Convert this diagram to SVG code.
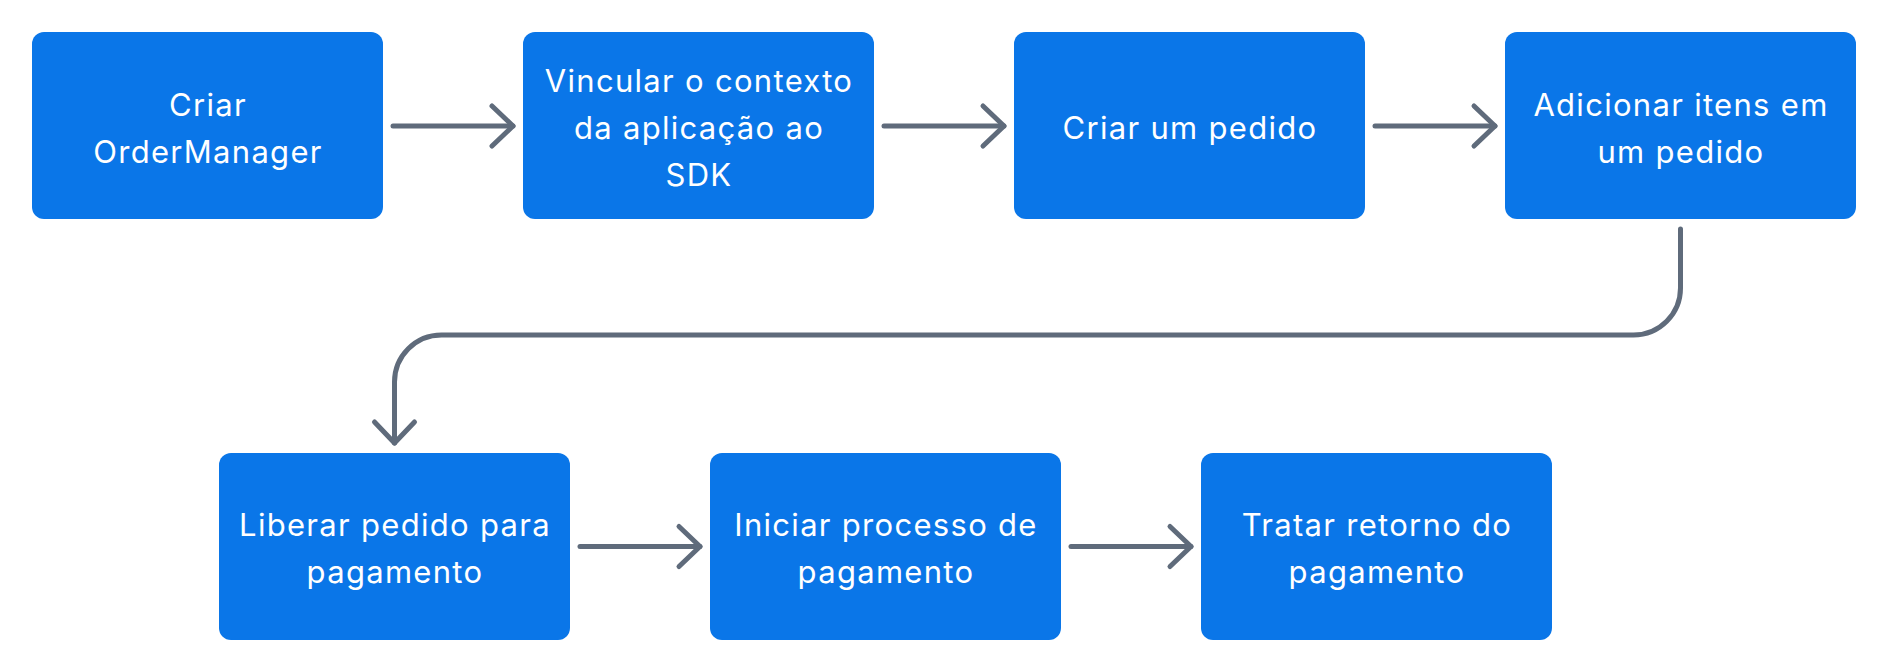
<svg xmlns="http://www.w3.org/2000/svg" width="1888" height="672" viewBox="0 0 1888 672">
<style>
.box{fill:#0a76e8;}
.lbl{fill:#ffffff;font-family:Inter,"Open Sans","DejaVu Sans",sans-serif;font-size:31px;letter-spacing:1.3px;text-anchor:middle;}
.con{fill:none;stroke:#5f6b7b;stroke-width:5;stroke-linecap:round;stroke-linejoin:round;}
</style>
<defs>
<marker id="arr" markerUnits="userSpaceOnUse" viewBox="-26 -26 32 52" refX="0" refY="0" markerWidth="32" markerHeight="52" orient="auto" overflow="visible">
<path d="M-21,-20 L0,0 L-21,20" fill="none" stroke="#5f6b7b" stroke-width="5" stroke-linecap="round" stroke-linejoin="round"/>
</marker>
</defs>
<rect width="1888" height="672" fill="#ffffff"/>
<g id="connectors">
<path class="con" d="M393,126 H513" marker-end="url(#arr)"/>
<path class="con" d="M884,126 H1004" marker-end="url(#arr)"/>
<path class="con" d="M1375,126 H1495" marker-end="url(#arr)"/>
<path class="con" d="M1680.5,229 V288 A47,47 0 0 1 1633.5,335 H441.5 A47,47 0 0 0 394.5,382 V443" marker-end="url(#arr)"/>
<path class="con" d="M580,546.5 H700" marker-end="url(#arr)"/>
<path class="con" d="M1071,546.5 H1191" marker-end="url(#arr)"/>
</g>
<g id="n1"><rect class="box" x="32" y="32" width="351" height="187" rx="12"/>
<text class="lbl" x="208" y="115.5">Criar</text><text class="lbl" x="208" y="162.5">OrderManager</text></g>
<g id="n2"><rect class="box" x="523" y="32" width="351" height="187" rx="12"/>
<text class="lbl" x="699" y="91.5">Vincular o contexto</text><text class="lbl" x="699" y="138.5">da aplicação ao</text><text class="lbl" x="699" y="185.5">SDK</text></g>
<g id="n3"><rect class="box" x="1014" y="32" width="351" height="187" rx="12"/>
<text class="lbl" x="1190" y="138.5">Criar um pedido</text></g>
<g id="n4"><rect class="box" x="1505" y="32" width="351" height="187" rx="12"/>
<text class="lbl" x="1681" y="115.5">Adicionar itens em</text><text class="lbl" x="1681" y="162.5">um pedido</text></g>
<g id="n5"><rect class="box" x="219" y="453" width="351" height="187" rx="12"/>
<text class="lbl" x="395" y="536">Liberar pedido para</text><text class="lbl" x="395" y="583">pagamento</text></g>
<g id="n6"><rect class="box" x="710" y="453" width="351" height="187" rx="12"/>
<text class="lbl" x="886" y="536">Iniciar processo de</text><text class="lbl" x="886" y="583">pagamento</text></g>
<g id="n7"><rect class="box" x="1201" y="453" width="351" height="187" rx="12"/>
<text class="lbl" x="1377" y="536">Tratar retorno do</text><text class="lbl" x="1377" y="583">pagamento</text></g>
</svg>
